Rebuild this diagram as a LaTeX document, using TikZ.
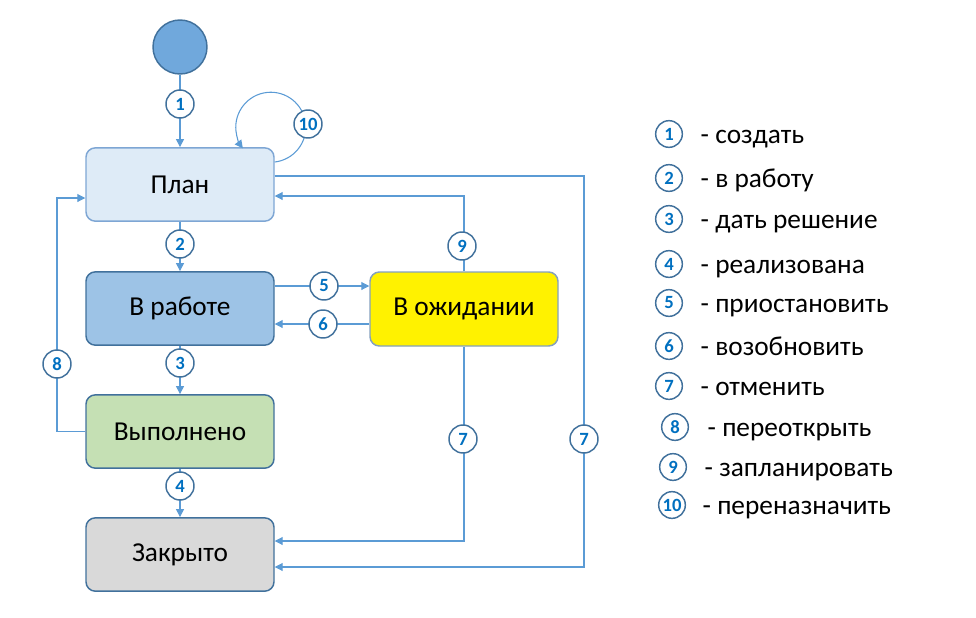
\documentclass[tikz,border=0pt]{standalone}
\usepackage{fontspec}
\setmainfont{Carlito}
\usetikzlibrary{arrows.meta}

\definecolor{flowblue}{RGB}{91,155,213}
\definecolor{edgeblue}{RGB}{65,113,156}
\definecolor{numblue}{RGB}{0,112,192}
\definecolor{startfill}{RGB}{112,168,220}
\definecolor{planfill}{RGB}{222,235,247}
\definecolor{planedge}{RGB}{126,166,212}
\definecolor{workfill}{RGB}{157,195,230}
\definecolor{donefill}{RGB}{197,224,180}
\definecolor{closedfill}{RGB}{217,217,217}
\definecolor{waitedge}{RGB}{132,160,190}

\begin{document}
\begin{tikzpicture}[x=0.75pt,y=-0.75pt,
  state/.style={draw=edgeblue, line width=1.1pt, rounded corners=7pt,
    minimum width=141pt, minimum height=55pt, font=\fontsize{20.5}{22}\selectfont},
  link/.style={draw=flowblue, line width=0.8pt, -{Triangle[length=6pt,width=6pt]}},
  num/.style={circle, draw=edgeblue, fill=white, line width=1.1pt, minimum size=21pt,
    inner sep=0pt, text=numblue, font=\fontsize{14}{14}\selectfont\bfseries},
  key/.style={num, minimum size=20pt},
  legend/.style={anchor=base west, font=\fontsize{20.5}{22}\selectfont}]
  \useasboundingbox (0,0) rectangle (976,618);

  % Draw the states
  \node[circle, draw=edgeblue, fill=startfill, line width=1.1pt, minimum size=40.5pt] (init) at (180,47) {};
  \node[state, fill=planfill, draw=planedge] (plan) at (180,184.5) {План};
  \node[state, fill=workfill] (work) at (180,308.5) {В работе};
  \node[state, fill=donefill] (done) at (180,431.5) {Выполнено};
  \node[state, fill=closedfill] (closed) at (180,554.5) {Закрыто};
  \node[state, fill=yellow, draw=waitedge, minimum height=55.5pt] (wait) at (464,309) {В ожидании};

  % Bends of the long connectors
  \coordinate (c8) at (57,364);
  \coordinate (c7) at (584,439);

  % Draw the transitions
  \draw[link] (init) -- (plan);
  \draw[link] (plan) -- (work);
  \draw[link] (work) -- (done);
  \draw[link] (done) -- (closed);
  \draw[link] (work.east |- 0,286) -- (wait.west |- 0,286);
  \draw[link] (wait.west |- 0,324) -- (work.east |- 0,324);
  \draw[link] (wait.north) |- (plan.east |- 0,196);
  \draw[link] (wait.south) |- (closed.east |- 0,541);
  \draw[link] (plan.east |- 0,176) -| (c7) |- (closed.east |- 0,567);
  \draw[link] (done.west) -| (c8) |- (plan.west |- 0,198);
  \draw[link] (plan.east |- 0,162) arc[start angle=-83.5, end angle=217, radius=26.25pt];

  % Add numbers
  \node[num] (b1) at (180,104) {1};
  \node[num] (b2) at (180,244) {2};
  \node[num] (b3) at (180,363) {3};
  \node[num] (b4) at (180,486) {4};
  \node[num] (b5) at (324,286) {5};
  \node[num] (b6) at (323,324) {6};
  \node[num] (b7a) at (463,439) {7};
  \node[num] (b7b) at (c7) {7};
  \node[num] (b8) at (c8) {8};
  \node[num] (b9) at (462,246) {9};
  \node[num] (b10) at (308,124) {10};

  % Add legend
  \node[key] (l1) at (669,134) {1};
  \node[legend] (t1) at (696,143) {- создать};
  \node[key] (l2) at (669,178) {2};
  \node[legend] (t2) at (696,187) {- в работу};
  \node[key] (l3) at (669,219) {3};
  \node[legend] (t3) at (696,228) {- дать решение};
  \node[key] (l4) at (669,264) {4};
  \node[legend] (t4) at (696,273) {- реализована};
  \node[key] (l5) at (669,303) {5};
  \node[legend] (t5) at (696,312) {- приостановить};
  \node[key] (l6) at (669,346) {6};
  \node[legend] (t6) at (696,355) {- возобновить};
  \node[key] (l7) at (669,386) {7};
  \node[legend] (t7) at (696,395) {- отменить};
  \node[key] (l8) at (675,427) {8};
  \node[legend] (t8) at (703,436) {- переоткрыть};
  \node[key] (l9) at (673,467) {9};
  \node[legend] (t9) at (700,476) {- запланировать};
  \node[key] (l10) at (672,505) {10};
  \node[legend] (t10) at (698,514) {- переназначить};
\end{tikzpicture}
\end{document}
